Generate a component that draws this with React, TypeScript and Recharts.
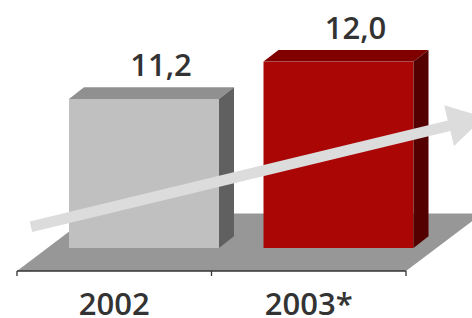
import React from 'react';
import { BarChart, Bar, XAxis, YAxis, Cell, LabelList, ReferenceArea, ReferenceLine } from 'recharts';

// ---- data ----
const categories = ['2002', '2003*'];
const values = [11.2, 12.0];
const valueLabels = ['11,2', '12,0'];
// trend arrow, in value units at the band centres of the two categories
const trendFrom = 9.38;
const trendTo = 10.39;
const yDomain = [8, 13];

const data = categories.map((c, i) => ({ cat: c, value: values[i], label: valueLabels[i] }));

// ---- style ----
const W = 472;
const H = 318;
const MARGIN = { top: 38, right: 66, bottom: 7, left: 17 };
const PLOT_W = W - MARGIN.left - MARGIN.right;
const HALF_BAND = PLOT_W / categories.length / 2;
const FONT = "'Open Sans', 'DejaVu Sans', sans-serif";
const TEXT = '#333333';
const FRONT = ['#c0c0c0', '#aa0606'];
const TOP = ['#909090', '#800000'];
const SIDE = ['#606060', '#550000'];
const FLOOR = '#979797';
const ARROW = '#dcdcdc';
// 3D offsets
const OX = 30, OY = -23; // bars stand on the floor, pushed back
const DX = 15, DY = -11.7; // bar depth
const FDX = 76, FDY = -57.4; // floor depth

const Bar3D = (props: any) => {
  const { x, y, width, height, index } = props;
  const fx = x + OX, fy = y + OY;
  const top = `${fx},${fy} ${fx + DX},${fy + DY} ${fx + width + DX},${fy + DY} ${fx + width},${fy}`;
  const side = `${fx + width},${fy} ${fx + width + DX},${fy + DY} ${fx + width + DX},${fy + height + DY} ${fx + width},${fy + height}`;
  return (
    <g>
      <rect x={fx} y={fy} width={width} height={height} fill={FRONT[index]} />
      <polygon points={top} fill={TOP[index]} />
      <polygon points={side} fill={SIDE[index]} />
    </g>
  );
};

const Floor = (props: any) => {
  const { x, y, width, height } = props;
  const by = y + height;
  const pts = `${x},${by} ${x + FDX},${by + FDY} ${x + width + FDX},${by + FDY} ${x + width},${by}`;
  return <polygon points={pts} fill={FLOOR} />;
};

const Arrow = (props: any) => {
  const { x1, y1, x2, y2 } = props;
  if ([x1, y1, x2, y2].some((v) => typeof v !== 'number' || isNaN(v))) return null;
  const len = Math.hypot(x2 - x1, y2 - y1);
  const ux = (x2 - x1) / len, uy = (y2 - y1) / len;
  const nx = -uy, ny = ux;
  const sx = x1 - ux * 85.7, sy = y1 - uy * 85.7;
  const bx = x2 + ux * 144.4, by = y2 + uy * 144.4;
  const tx = bx + ux * 36, ty = by + uy * 36;
  const hw = 5.4, hh = 21;
  const p = (a: number, b: number) => `${a},${b}`;
  const pts = [
    p(sx + nx * hw, sy + ny * hw),
    p(bx + nx * hw, by + ny * hw),
    p(bx + nx * hh, by + ny * hh),
    p(tx, ty),
    p(bx - nx * hh, by - ny * hh),
    p(bx - nx * hw, by - ny * hw),
    p(sx - nx * hw, sy - ny * hw),
  ].join(' ');
  return <polygon points={pts} fill={ARROW} />;
};

const ValueLabel = (props: any) => {
  const { x, y, width, value } = props;
  return (
    <text x={x + width / 2 + OX + 17} y={y - 46} textAnchor="middle" fill={TEXT}
      fontFamily={FONT} fontWeight={600} fontSize={31}>
      {value}
    </text>
  );
};

const Tick = (props: any) => {
  const { x, y, payload, index } = props;
  return (
    <g>
      <line x1={x - HALF_BAND} x2={x - HALF_BAND} y1={y} y2={y + 5} stroke={TEXT} strokeWidth={1.3} />
      {index === categories.length - 1 && (
        <line x1={x + HALF_BAND} x2={x + HALF_BAND} y1={y} y2={y + 5} stroke={TEXT} strokeWidth={1.3} />
      )}
      <text x={x} y={y + 44} textAnchor="middle" fill={TEXT} fontFamily={FONT} fontWeight={600} fontSize={31}>
        {payload.value}
      </text>
    </g>
  );
};

export default function App() {
  return (
    <div style={{ position: 'absolute', left: 0, top: 0, background: '#fff' }}>
      <BarChart width={W} height={H} data={data} margin={MARGIN}>
        <ReferenceArea x1={categories[0]} x2={categories[categories.length - 1]} shape={<Floor />} ifOverflow="visible" />
        <XAxis dataKey="cat" height={40} tickLine={false} tickSize={0} tickMargin={0}
          axisLine={{ stroke: TEXT, strokeWidth: 1.3 }} tick={<Tick />} interval={0} />
        <YAxis hide domain={yDomain} type="number" allowDataOverflow />
        <Bar dataKey="value" barSize={150} shape={<Bar3D />} isAnimationActive={false}>
          {data.map((d, i) => (
            <Cell key={d.cat} fill={FRONT[i]} />
          ))}
          <LabelList dataKey="label" content={<ValueLabel />} />
        </Bar>
        <ReferenceLine
          segment={[{ x: categories[0], y: trendFrom }, { x: categories[1], y: trendTo }]}
          shape={<Arrow />}
          ifOverflow="visible"
        />
      </BarChart>
    </div>
  );
}
